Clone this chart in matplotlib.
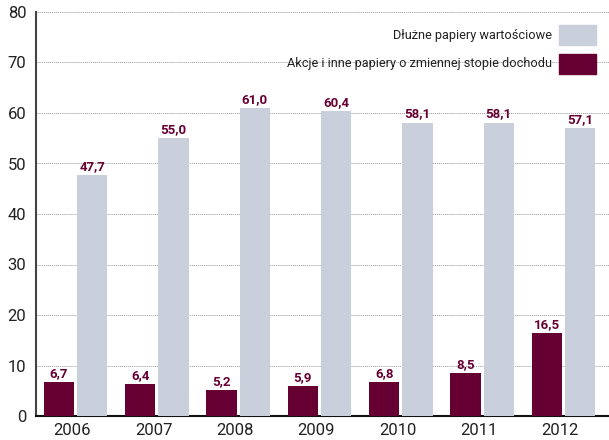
import matplotlib
matplotlib.use("Agg")
import matplotlib.pyplot as plt
from matplotlib.patches import Rectangle
import numpy as np

years = ["2006", "2007", "2008", "2009", "2010", "2011", "2012"]
dluzne = [47.7, 55.0, 61.0, 60.4, 58.1, 58.1, 57.1]
akcje = [6.7, 6.4, 5.2, 5.9, 6.8, 8.5, 16.5]
series_names = ["Dłużne papiery wartościowe",
                "Akcje i inne papiery o zmiennej stopie dochodu"]
yticks = [0, 10, 20, 30, 40, 50, 60, 70, 80]

MAROON = "#660033"
LIGHT = "#c9cfdb"
FONT = ["Roboto", "DejaVu Sans"]
plt.rcParams['font.family'] = FONT

fig = plt.figure(figsize=(6.09, 4.40), dpi=100)
W, H = 609, 440
L, R, T, B = 36, 609, 12, 416
ax = fig.add_axes([L / W, (H - B) / H, (R - L) / W, (B - T) / H])

x = np.arange(len(years))
bw = 0.37
gap = 0.04
xm = x - (bw + gap) / 2
xg = x + (bw + gap) / 2
ax.bar(xm, akcje, width=bw, color=MAROON, zorder=3)
ax.bar(xg, dluzne, width=bw, color=LIGHT, zorder=3)

def fmt(v):
    return f"{v:.1f}".replace(".", ",")

for xi, v in zip(xm, akcje):
    ax.text(xi, v + 0.4, fmt(v), ha="center", va="bottom", fontsize=9.5,
            fontweight="bold", color=MAROON, zorder=4)
for xi, v in zip(xg, dluzne):
    ax.text(xi, v + 0.4, fmt(v), ha="center", va="bottom", fontsize=9.5,
            fontweight="bold", color=MAROON, zorder=4)

ax.set_xlim(-0.486, 6.56)
ax.set_ylim(0, 80)
ax.set_yticks(yticks)
ax.set_yticklabels([str(t) for t in yticks], fontsize=12, color="#222222")
ax.set_xticks(x - 0.04)
ax.set_xticklabels(years, fontsize=12, color="#222222")
ax.tick_params(axis="both", length=0)
ax.tick_params(axis="y", pad=7)
ax.tick_params(axis="x", pad=5)

ax.yaxis.grid(True, linestyle=(0, (1, 1)), color="#9a9a9a", linewidth=0.7, zorder=0)
ax.set_axisbelow(True)
for s in ["top", "right"]:
    ax.spines[s].set_visible(False)
ax.spines["left"].set_color("#444444")
ax.spines["left"].set_linewidth(1.5)
ax.spines["bottom"].set_color("#111111")
ax.spines["bottom"].set_linewidth(1.5)

# legend (text left of color patch)
aw, ah = R - L, B - T
def fx(px):
    return (px - L) / aw
def fy(py):
    return (B - py) / ah

entries = [(series_names[0], LIGHT, 25, 45), (series_names[1], MAROON, 54, 74)]
for name, col, y0, y1 in entries:
    ax.add_patch(Rectangle((fx(559), fy(y1)), 37 / aw, (y1 - y0) / ah,
                           transform=ax.transAxes, color=col, clip_on=False, zorder=5))
    ax.text(fx(552), fy((y0 + y1) / 2), name, transform=ax.transAxes,
            ha="right", va="center", fontsize=9.2, color="#222222")

fig.savefig("out.png", dpi=100)
